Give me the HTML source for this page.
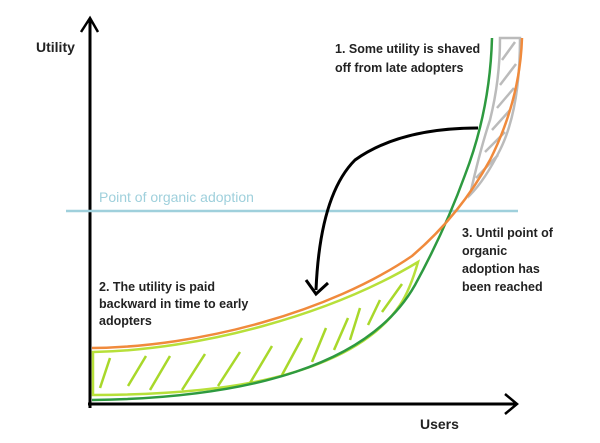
<!DOCTYPE html>
<html><head><meta charset="utf-8"><style>
html,body{margin:0;padding:0;background:#fff;}
svg{display:block;}
text{font-family:"Liberation Sans",sans-serif;font-weight:bold;font-size:12.5px;fill:#222;}
</style></head><body>
<svg width="600" height="443" viewBox="0 0 600 443" xmlns="http://www.w3.org/2000/svg">
<!-- axes -->
<path d="M90 408 L90 20" stroke="#000" stroke-width="3" fill="none"/>
<path d="M81 32 L90 18 L98 32" stroke="#000" stroke-width="2.5" fill="none"/>
<path d="M88 404 L516 404" stroke="#000" stroke-width="3" fill="none"/>
<path d="M505 394 L517 404 L505 414" stroke="#000" stroke-width="2.5" fill="none"/>
<text x="36" y="52" style="font-size:14px">Utility</text>
<text x="420" y="429" style="font-size:14px">Users</text>
<!-- organic adoption line -->
<path d="M66 211 L518 211" stroke="#9fd0dc" stroke-width="2.5"/>
<text x="99" y="202" style="font-size:14px;fill:#9fd0dc;font-weight:normal">Point of organic adoption</text>
<!-- gray shaved region -->
<path d="M500 38 L520 38 Q520 110 500 150 Q485 180 470 195 Q480 150 490 120 Q500 80 500 38 Z" fill="none" stroke="#bbb" stroke-width="2.5"/>
<g stroke="#bbb" stroke-width="2.5" fill="none">
<path d="M502 60 L515 42"/><path d="M500 85 L516 64"/><path d="M497 108 L514 88"/>
<path d="M492 130 L510 110"/><path d="M485 152 L505 132"/><path d="M476 178 L498 155"/>
</g>
<!-- light green region -->
<path d="M93 352 C200 350 330 315 418 262 Q410 290 400 305 C370 350 300 380 200 390 Q150 395 93 395 Z" fill="none" stroke="#b7e03a" stroke-width="2.5"/>
<g stroke="#a8d82a" stroke-width="2.5" fill="none">
<path d="M100 388 L110 358"/><path d="M128 386 L146 356"/><path d="M150 390 L170 356"/>
<path d="M182 390 L205 354"/><path d="M218 386 L240 352"/><path d="M250 383 L272 346"/>
<path d="M282 375 L302 338"/><path d="M312 362 L326 328"/><path d="M334 350 L348 318"/>
<path d="M350 340 L360 308"/><path d="M368 325 L380 300"/><path d="M382 312 L402 284"/>
</g>
<!-- green curve -->
<path d="M92 400 C250 398 370 365 415 285 Q445 230 465 175 Q490 110 492 38" fill="none" stroke="#2e9a40" stroke-width="2.5"/>
<!-- orange curve -->
<path d="M92 348 C200 347 330 312 412 256 Q460 215 490 160 Q520 100 522 38" fill="none" stroke="#f08a3c" stroke-width="2.5"/>
<!-- black arrow -->
<path d="M478 128 Q400 128 355 160 Q320 195 316 290" fill="none" stroke="#000" stroke-width="3"/>
<path d="M306 280 L316 294 L328 283" fill="none" stroke="#000" stroke-width="3"/>
<!-- labels -->
<text x="335" y="53">1. Some utility is shaved</text>
<text x="335" y="72">off from late adopters</text>
<text x="462" y="237">3. Until point of</text>
<text x="462" y="255">organic</text>
<text x="462" y="273">adoption has</text>
<text x="462" y="291">been reached</text>
<text x="99" y="291">2. The utility is paid</text>
<text x="99" y="308">backward in time to early</text>
<text x="99" y="325">adopters</text>
</svg>
</body></html>
